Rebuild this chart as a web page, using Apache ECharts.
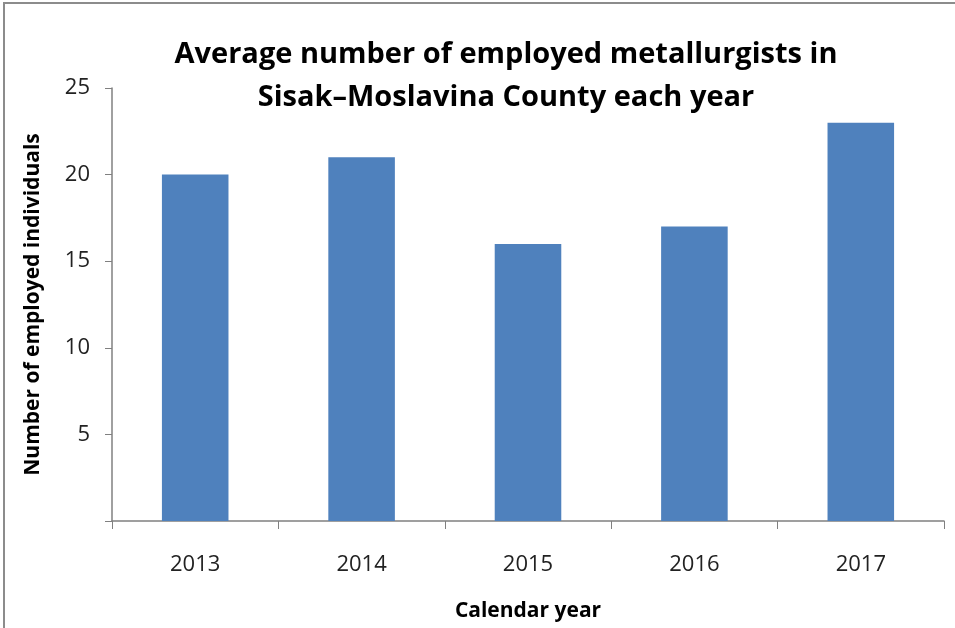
<!DOCTYPE html>
<html>
<head>
<meta charset="utf-8">
<script src="https://cdn.jsdelivr.net/npm/echarts@6/dist/echarts.min.js"></script>
<style>
  html, body { margin: 0; padding: 0; background: #fff; }
  #chart { width: 955px; height: 628px; }
</style>
</head>
<body>
<div id="chart"></div>
<script>
var years = ['2013', '2014', '2015', '2016', '2017'];
var employed = [20, 21, 16, 17, 23];
var yTicks = [0, 5, 10, 15, 20, 25];

var chart = echarts.init(document.getElementById('chart'));
var font = '"Open Sans", "Liberation Sans", sans-serif';

var option = {
    animation: false,
    backgroundColor: '#fff',
    textStyle: { fontFamily: font },
    graphic: [{
        type: 'rect',
        shape: { x: 4, y: 3, width: 960, height: 640 },
        style: { fill: 'none', stroke: '#8c8c8c', lineWidth: 2 },
        silent: true
    }],
    title: {
        text: 'Average number of employed metallurgists in\nSisak\u2013Moslavina County each year',
        left: 501,
        textAlign: 'center',
        top: 28,
        textStyle: {
            fontFamily: font,
            fontSize: 29,
            fontWeight: 'bold',
            color: '#000',
            lineHeight: 43
        }
    },
    grid: { left: 112, right: 11, top: 88, bottom: 107 },
    xAxis: {
        type: 'category',
        data: years,
        name: 'Calendar year',
        nameLocation: 'middle',
        nameGap: 80,
        nameTextStyle: { fontFamily: font, fontSize: 21, fontWeight: 'bold', color: '#000' },
        axisLine: { lineStyle: { color: '#808080', width: 1.5 } },
        axisTick: { show: true, length: 8, inside: false, lineStyle: { color: '#808080' } },
        axisLabel: { margin: 33, fontSize: 22, color: '#222', fontFamily: font },
        splitLine: { show: false }
    },
    yAxis: {
        type: 'value',
        min: 0,
        max: 25,
        interval: 5,
        name: 'Number of employed individuals',
        nameLocation: 'middle',
        nameGap: 68,
        nameRotate: 90,
        nameTextStyle: { fontFamily: font, fontSize: 21, fontWeight: 'bold', color: '#000' },
        axisLine: { show: true, lineStyle: { color: '#808080', width: 1.5 } },
        axisTick: { show: true, length: 7, lineStyle: { color: '#808080' } },
        axisLabel: {
            margin: 22,
            fontSize: 22,
            color: '#222',
            fontFamily: font,
            formatter: function (v) { return v === yTicks[0] ? '' : String(v); }
        },
        splitLine: { show: false }
    },
    series: [{
        type: 'bar',
        data: employed,
        barWidth: '40%',
        itemStyle: { color: '#4f81bd' }
    }]
};

chart.setOption(option);
</script>
</body>
</html>
